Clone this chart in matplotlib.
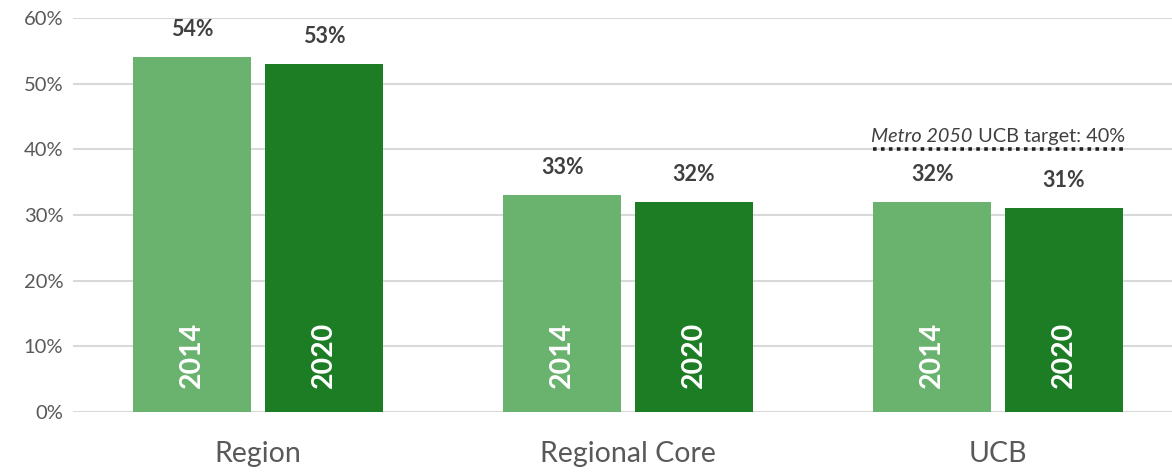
import numpy as np
import matplotlib
matplotlib.use('Agg')
import matplotlib.pyplot as plt
from matplotlib.offsetbox import TextArea, HPacker, AnnotationBbox

# %% data
categories = ['Region', 'Regional Core', 'UCB']
years = ['2014', '2020']
share_2014 = [0.54, 0.33, 0.32]
share_2020 = [0.53, 0.32, 0.31]
ucb_target = 0.40
yticks = [0, 0.1, 0.2, 0.3, 0.4, 0.5, 0.6]

# %% style
plt.rcParams['font.family'] = ['Lato', 'DejaVu Sans']
light = '#69b36e'
dark = '#1c7d24'
txt = '#404040'
grey = '#595959'

fig = plt.figure(figsize=(11.72, 4.74), dpi=100)
ax = fig.add_axes([0.0623, 0.1308, 0.9377, 0.8312])

x = np.arange(len(categories))
w = 0.32
off = 0.178
series = [(share_2014, light, -off), (share_2020, dark, off)]

for (vals, col, o), yr in zip(series, years):
    bars = ax.bar(x + o, vals, width=w, color=col, zorder=2)
    for b, v in zip(bars, vals):
        cx = b.get_x() + b.get_width() / 2
        ax.annotate(f'{v * 100:.0f}%', (cx, v), xytext=(0, 20),
                    textcoords='offset points', ha='center', va='center',
                    fontsize=15.5, fontweight='bold', color=txt)
        ax.text(cx, 0.087, yr, rotation=90, ha='center', va='center',
                fontsize=20.5, fontweight='bold', color='white', zorder=3)

# target line over the UCB bars
i = categories.index('UCB')
ax.plot([i - off - w / 2, i + off + w / 2], [ucb_target, ucb_target],
        linestyle=(0, (1, 1.2)), color='#222222', lw=2.6, zorder=3)
parts = HPacker(children=[
    TextArea('Metro 2050', textprops=dict(fontsize=14.3, style='italic', color=txt)),
    TextArea(' UCB target: 40%', textprops=dict(fontsize=14.3, color=txt)),
], align='baseline', pad=0, sep=0)
ab = AnnotationBbox(parts, (i, ucb_target), xybox=(0, 3), boxcoords='offset points',
                    box_alignment=(0.5, 0), frameon=False)
ax.add_artist(ab)

ax.set_ylim(0, 0.6)
ax.set_xlim(-0.5, 2.47)
ax.set_yticks(yticks)
ax.set_yticklabels([f'{t * 100:.0f}%' for t in yticks], fontsize=14.5, color=grey)
ax.set_xticks(x)
ax.set_xticklabels(categories, fontsize=20.5, color=grey)
ax.tick_params(length=0)
ax.tick_params(axis='x', pad=21)
ax.tick_params(axis='y', pad=7)
ax.grid(axis='y', color='#d9d9d9', lw=1.5, zorder=0)
ax.set_axisbelow(True)
for s in ax.spines.values():
    s.set_visible(False)

fig.savefig('out.png', dpi=100)
